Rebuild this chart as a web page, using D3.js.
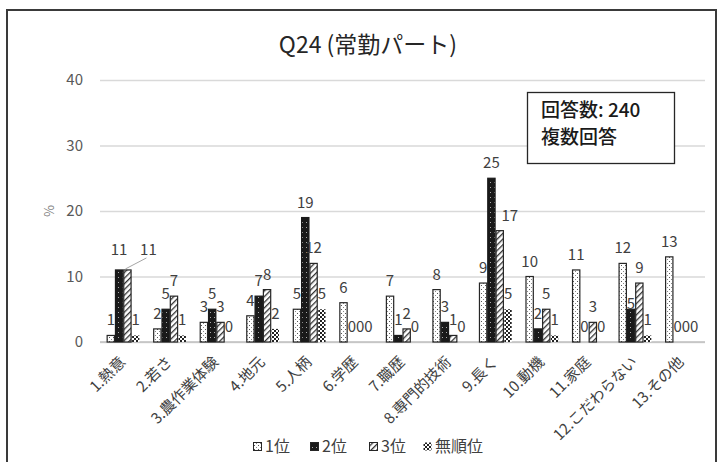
<!DOCTYPE html>
<html>
<head>
<meta charset="utf-8">
<script src="https://cdn.jsdelivr.net/npm/d3@7/dist/d3.min.js"></script>
<style>
  html, body { margin: 0; padding: 0; background: #fff; }
  svg { display: block; font-family: "Noto Sans CJK JP", "Noto Sans", sans-serif; }
</style>
</head>
<body>
<svg id="chart" width="717" height="462"></svg>
<script>
// Reasons for hiring part-time staff (Q24), percent by rank
const categories = ["1.熱意", "2.若さ", "3.農作業体験", "4.地元", "5.人柄", "6.学歴", "7.職歴",
  "8.専門的技術", "9.長く", "10.動機", "11.家庭", "12.こだわらない", "13.その他"];
const seriesNames = ["1位", "2位", "3位", "無順位"];
const rank1 = [1, 2, 3, 4, 5, 6, 7, 8, 9, 10, 11, 12, 13];
const rank2 = [11, 5, 5, 7, 19, 0, 1, 3, 25, 2, 0, 5, 0];
const rank3 = [11, 7, 3, 8, 12, 0, 2, 1, 17, 5, 3, 9, 0];
const unranked = [1, 1, 0, 2, 5, 0, 0, 0, 5, 1, 0, 1, 0];
const yTicks = [0, 10, 20, 30, 40];
const titleText = "Q24 (常勤パート)";
const noteLines = ["回答数: 240", "複数回答"];

const seriesValues = [rank1, rank2, rank3, unranked];

const svg = d3.select("#chart");
const W = 717, H = 462;
const plot = { left: 100, right: 705, top: 80, bottom: 342 };

// ---- fill patterns ----
const defs = svg.append("defs");

const pDots = defs.append("pattern").attr("id", "p-dots")
  .attr("patternUnits", "userSpaceOnUse").attr("width", 4).attr("height", 4);
pDots.append("rect").attr("width", 4).attr("height", 4).attr("fill", "#fff");
pDots.append("rect").attr("x", 1).attr("y", 1).attr("width", 1).attr("height", 1).attr("fill", "#555");
pDots.append("rect").attr("x", 3).attr("y", 3).attr("width", 1).attr("height", 1).attr("fill", "#888");

const pBlack = defs.append("pattern").attr("id", "p-black")
  .attr("patternUnits", "userSpaceOnUse").attr("width", 4).attr("height", 5);
pBlack.append("rect").attr("width", 4).attr("height", 5).attr("fill", "#1a1a1a");
pBlack.append("rect").attr("x", 2).attr("y", 2).attr("width", 1).attr("height", 1).attr("fill", "#aaa");

const pHatch = defs.append("pattern").attr("id", "p-hatch")
  .attr("patternUnits", "userSpaceOnUse").attr("width", 4).attr("height", 4)
  .attr("patternTransform", "rotate(45)");
pHatch.append("rect").attr("width", 4).attr("height", 4).attr("fill", "#fff");
pHatch.append("rect").attr("x", 0).attr("width", 1.3).attr("height", 4).attr("fill", "#333");

const pCheck = defs.append("pattern").attr("id", "p-check")
  .attr("patternUnits", "userSpaceOnUse").attr("width", 4).attr("height", 4);
pCheck.append("rect").attr("width", 4).attr("height", 4).attr("fill", "#fff");
pCheck.append("rect").attr("x", 0).attr("y", 0).attr("width", 2).attr("height", 2).attr("fill", "#222");
pCheck.append("rect").attr("x", 2).attr("y", 2).attr("width", 2).attr("height", 2).attr("fill", "#222");

const fills = ["url(#p-dots)", "url(#p-black)", "url(#p-hatch)", "url(#p-check)"];
const strokes = ["#262626", "#1a1a1a", "#262626", "none"];

// ---- frame ----
svg.append("path")
  .attr("d", `M7,${H + 5} L7,10 L716,10 L716,${H + 5}`)
  .attr("fill", "none").attr("stroke", "#3a3a3a").attr("stroke-width", 2);

// ---- scales ----
const x0 = d3.scaleBand().domain(categories).range([plot.left, plot.right]).paddingInner(0).paddingOuter(0);
const x1 = d3.scaleBand().domain(seriesNames).range([0, x0.bandwidth()]).paddingInner(0).paddingOuter(0.8);
const y = d3.scaleLinear().domain([0, 40]).range([plot.bottom, plot.top]);

// ---- gridlines and y axis ----
const yAxis = d3.axisLeft(y).tickValues(yTicks).tickSize(-(plot.right - plot.left)).tickPadding(17);
const gy = svg.append("g").attr("transform", `translate(${plot.left},0)`).call(yAxis);
gy.select(".domain").remove();
gy.selectAll(".tick line").attr("stroke", "#d9d9d9").attr("stroke-width", 1.3);
gy.selectAll(".tick text")
  .attr("fill", "#595959").attr("font-size", 15)
  .attr("font-family", "'Noto Sans CJK JP', sans-serif");
svg.append("line")
  .attr("x1", plot.left).attr("x2", plot.right)
  .attr("y1", y(0)).attr("y2", y(0))
  .attr("stroke", "#bfbfbf").attr("stroke-width", 1.5);

svg.append("text")
  .attr("transform", `translate(54,${y(20)}) rotate(-90)`)
  .attr("text-anchor", "middle").attr("fill", "#7f7f7f").attr("font-size", 13)
  .text("%");

// ---- bars ----
const rows = [];
seriesNames.forEach((s, si) => {
  categories.forEach((c, ci) => rows.push({ s, si, c, ci, v: seriesValues[si][ci] }));
});

const barW = x1.bandwidth();
svg.append("g").selectAll("rect")
  .data(rows.filter(d => d.v > 0))
  .join("rect")
  .attr("x", d => x0(d.c) + x1(d.s) + 0.5)
  .attr("y", d => y(d.v))
  .attr("width", barW - 1)
  .attr("height", d => y(0) - y(d.v))
  .attr("fill", d => fills[d.si])
  .attr("stroke", d => strokes[d.si])
  .attr("stroke-width", 1.2);

// ---- value labels ----
// a few labels are nudged to keep clear of their neighbours
const nudge = {
  "1-0": { dx: 0, dy: -5 },
  "2-0": { dx: 21, dy: -5, leader: true },
  "2-8": { dx: 10, dy: 0 },
  "1-11": { dx: 0, dy: 10 }
};
const labels = svg.append("g")
  .attr("font-size", 15).attr("fill", "#404040").attr("text-anchor", "middle");
rows.forEach(d => {
  const n = nudge[`${d.si}-${d.ci}`] || { dx: 0, dy: 0 };
  const cx = x0(d.c) + x1(d.s) + barW / 2;
  const ty = y(d.v) - 10 + n.dy;
  labels.append("text").attr("x", cx + n.dx).attr("y", ty).text(d.v);
  if (n.leader) {
    svg.append("line")
      .attr("x1", cx - 2).attr("y1", y(d.v) - 1)
      .attr("x2", cx + n.dx - 2).attr("y2", ty + 3)
      .attr("stroke", "#a6a6a6").attr("stroke-width", 1);
  }
});

// ---- category axis labels ----
svg.append("g").selectAll("text")
  .data(categories)
  .join("text")
  .attr("transform", d => `translate(${x0(d) + x0.bandwidth() / 2 + 3},${plot.bottom + 21}) rotate(-45)`)
  .attr("text-anchor", "end")
  .attr("font-size", 15).attr("fill", "#404040")
  .text(d => d);

// ---- title ----
svg.append("text")
  .attr("x", 368).attr("y", 53)
  .attr("text-anchor", "middle").attr("font-size", 23).attr("fill", "#262626")
  .text(titleText);

// ---- note box ----
svg.append("rect")
  .attr("x", 527.5).attr("y", 92.5).attr("width", 147).attr("height", 71)
  .attr("fill", "#fff").attr("stroke", "#262626").attr("stroke-width", 1.3);
svg.append("g").selectAll("text")
  .data(noteLines)
  .join("text")
  .attr("x", 541).attr("y", (d, i) => 117 + i * 27)
  .attr("font-size", 19).attr("font-weight", 500).attr("fill", "#1a1a1a")
  .text(d => d);

// ---- legend ----
const legendX = [253, 310, 369, 423];
const lg = svg.append("g");
seriesNames.forEach((s, i) => {
  const g = lg.append("g").attr("transform", `translate(${legendX[i]},440)`);
  g.append("rect").attr("x", 0.5).attr("y", 2.5).attr("width", 8).attr("height", 8)
    .attr("fill", fills[i]).attr("stroke", i === 3 ? "none" : "#262626").attr("stroke-width", 1);
  g.append("text").attr("x", 12).attr("y", 12)
    .attr("font-size", 16).attr("fill", "#404040").text(s);
});
</script>
</body>
</html>
